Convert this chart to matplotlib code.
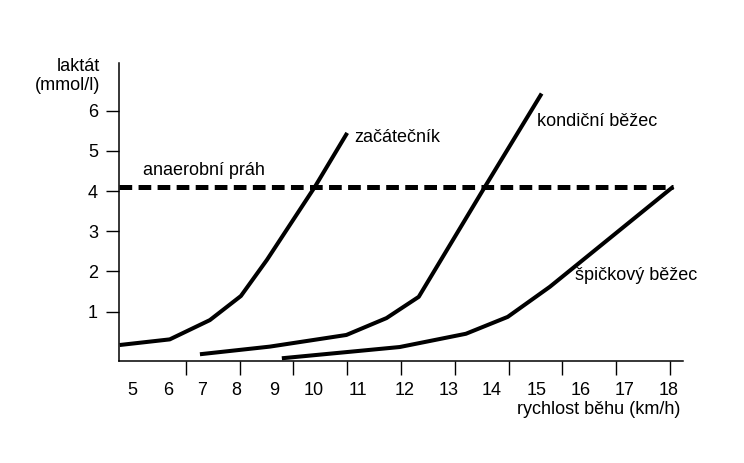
import numpy as np
import matplotlib
matplotlib.use("Agg")
import matplotlib.pyplot as plt

plt.rcParams['font.family'] = ['Liberation Sans', 'DejaVu Sans']

# lactate curves (x = running speed km/h, y = lactate mmol/l)
beginner_x = [4.70, 5.91, 6.88, 7.63, 8.26, 9.42, 10.20]
beginner_y = [0.17, 0.31, 0.79, 1.39, 2.29, 4.11, 5.45]

fit_x = [6.64, 8.33, 10.18, 11.15, 11.93, 13.53, 14.90]
fit_y = [-0.06, 0.13, 0.42, 0.84, 1.37, 4.11, 6.43]

elite_x = [8.62, 11.47, 13.07, 14.08, 15.10, 18.08]
elite_y = [-0.16, 0.12, 0.45, 0.87, 1.62, 4.11]

threshold = 4.11
threshold_x = [4.69, 18.08]

# axis ticks as drawn in the original (marks and labels don't line up)
xtick_marks = [5.0, 6.3, 7.6, 8.9, 10.2, 11.5, 12.8, 14.1, 15.4, 16.7, 18.0]
xlabel_pos = [5.0, 5.87, 6.70, 7.52, 8.43, 9.40, 10.47, 11.59, 12.64, 13.69,
              14.78, 15.85, 16.91, 17.96]
xlabel_txt = [str(v) for v in range(5, 19)]
ytick_pos = [1, 2, 3, 4, 5, 6]

FS = 13

fig = plt.figure(figsize=(7.44, 4.63), dpi=100)
ax = fig.add_axes([0.1603, 0.2210, 0.7573, 0.6429])

for xs, ys in [(beginner_x, beginner_y), (fit_x, fit_y), (elite_x, elite_y)]:
    ax.plot(xs, ys, color='black', lw=2.9, solid_capstyle='butt', solid_joinstyle='round')
ax.plot(threshold_x, [threshold, threshold], color='black', lw=3.6,
        linestyle=(0, (2.54, 1.27)), dash_capstyle='butt')

ax.set_xlim(4.69, 18.31)
ax.set_ylim(-0.22, 7.19)

for s in ['top', 'right']:
    ax.spines[s].set_visible(False)
for s in ['left', 'bottom']:
    ax.spines[s].set_linewidth(1.1)

ax.set_xticks(xlabel_pos)
ax.set_xticklabels(xlabel_txt, fontsize=FS)
ax.set_xticks(xtick_marks, minor=True)
ax.tick_params(axis='x', which='major', length=0, pad=15)
ax.tick_params(axis='x', which='minor', length=10, width=1.0, direction='out')

ax.set_yticks(ytick_pos)
ax.set_yticklabels([str(v) for v in ytick_pos], fontsize=FS)
ax.tick_params(axis='y', length=9.4, width=1.0, direction='out', pad=6)

ax.text(5.27, 4.52, 'anaerobní práh', fontsize=FS, ha='left', va='center')
ax.text(10.38, 5.34, 'začátečník', fontsize=FS, ha='left', va='center')
ax.text(14.80, 5.73, 'kondiční běžec', fontsize=FS, ha='left', va='center')
ax.text(15.70, 1.89, 'špičkový běžec', fontsize=FS, ha='left', va='center')

fig.text(0.1344, 0.836, 'laktát\n(mmol/l)', fontsize=FS, ha='right', va='center',
         multialignment='right', linespacing=1.2)
fig.text(0.914, 0.1145, 'rychlost běhu (km/h)', fontsize=FS, ha='right', va='center')

fig.savefig('out.png', dpi=100)
